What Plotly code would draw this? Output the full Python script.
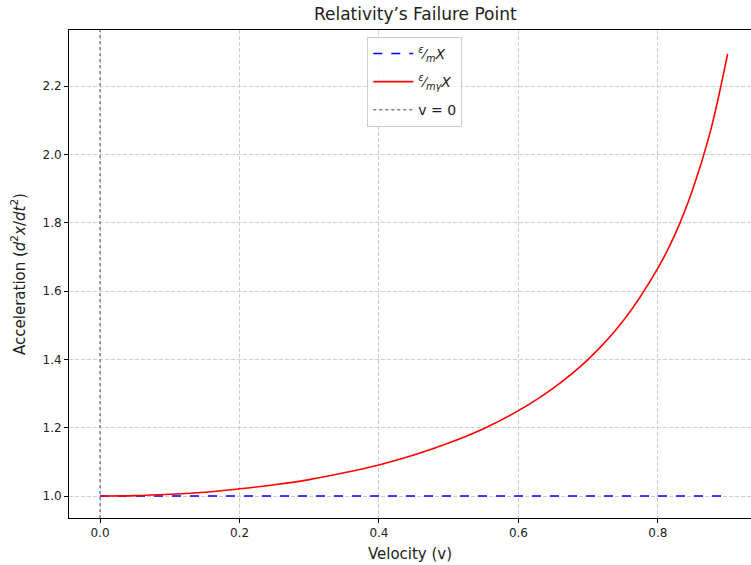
import plotly.graph_objects as go

# Values
velocity = [0.0, 0.05, 0.1, 0.15, 0.2, 0.25, 0.3, 0.35, 0.4, 0.45, 0.5, 0.55,
            0.6, 0.65, 0.7, 0.75, 0.8, 0.825, 0.85, 0.875, 0.9]
accel_classical = [1.0] * len(velocity)
accel_relativistic = [1.000, 1.001, 1.005, 1.011, 1.021, 1.033, 1.048, 1.068,
                      1.091, 1.120, 1.155, 1.197, 1.250, 1.316, 1.400, 1.512,
                      1.667, 1.768, 1.898, 2.065, 2.294]
vline_v = 0.0

x_ticks = [0.0, 0.2, 0.4, 0.6, 0.8]
y_ticks = [1.0, 1.2, 1.4, 1.6, 1.8, 2.0, 2.2]

FONT = "DejaVu Sans, Arial, sans-serif"

fig = go.Figure()
fig.add_trace(go.Scatter(
    x=velocity, y=accel_classical, mode="lines", legendgroup="a",
    name="<sup><i>ε</i></sup>⁄<sub><i>m</i></sub><i>X</i>",
    line=dict(color="blue", width=1.6, dash="dash"),
))
fig.add_trace(go.Scatter(
    x=velocity, y=accel_relativistic, mode="lines", legendgroup="b",
    name="<sup><i>ε</i></sup>⁄<sub><i>mγ</i></sub><i>X</i>",
    line=dict(color="red", width=1.6, shape="spline"),
))
fig.add_shape(
    type="line", x0=vline_v, x1=vline_v, xref="x", yref="paper", y0=0, y1=1,
    line=dict(color="gray", width=1.5, dash="dot"), legendgroup="c",
    showlegend=True, name="v = 0", layer="above",
)

axis_common = dict(
    showline=True, linecolor="black", linewidth=1, mirror=True,
    ticks="outside", ticklen=4, tickcolor="black", automargin=False,
    showgrid=True, gridcolor="#cfcfcf", griddash="4px,2px", gridwidth=1,
    zeroline=False, tickfont=dict(size=12, color="#222"),
)

fig.update_layout(
    width=751, height=565,
    margin=dict(l=69, r=0, t=30, b=47, autoexpand=False),
    paper_bgcolor="white", plot_bgcolor="white",
    font=dict(family=FONT, color="#222"),
    title=dict(text="Relativity’s Failure Point", x=0.553, xanchor="center",
               y=0.985, yanchor="top", font=dict(size=17, color="#222")),
    xaxis=dict(range=[-0.0445, 0.9335], tickvals=x_ticks,
               ticktext=[f"{t:.1f}" for t in x_ticks],
               title=dict(text="Velocity (v)", font=dict(size=15), standoff=9),
               **axis_common),
    yaxis=dict(range=[0.9356, 2.364], tickvals=y_ticks,
               ticktext=[f"{t:.1f}" for t in y_ticks],
               title=dict(text="Acceleration (<i>d</i><sup>2</sup><i>x</i>/<i>dt</i><sup>2</sup>)",
                          font=dict(size=15), standoff=13),
               **axis_common),
    legend=dict(x=0.507, y=0.986, xanchor="center", yanchor="top",
                bgcolor="rgba(255,255,255,0.85)", bordercolor="#cccccc",
                borderwidth=1, font=dict(size=14), itemwidth=40,
                tracegroupgap=7),
    showlegend=True,
)

fig.write_html("out.html", config={"displayModeBar": False},
               post_script="document.body.style.margin='0';document.body.style.padding='0';")
